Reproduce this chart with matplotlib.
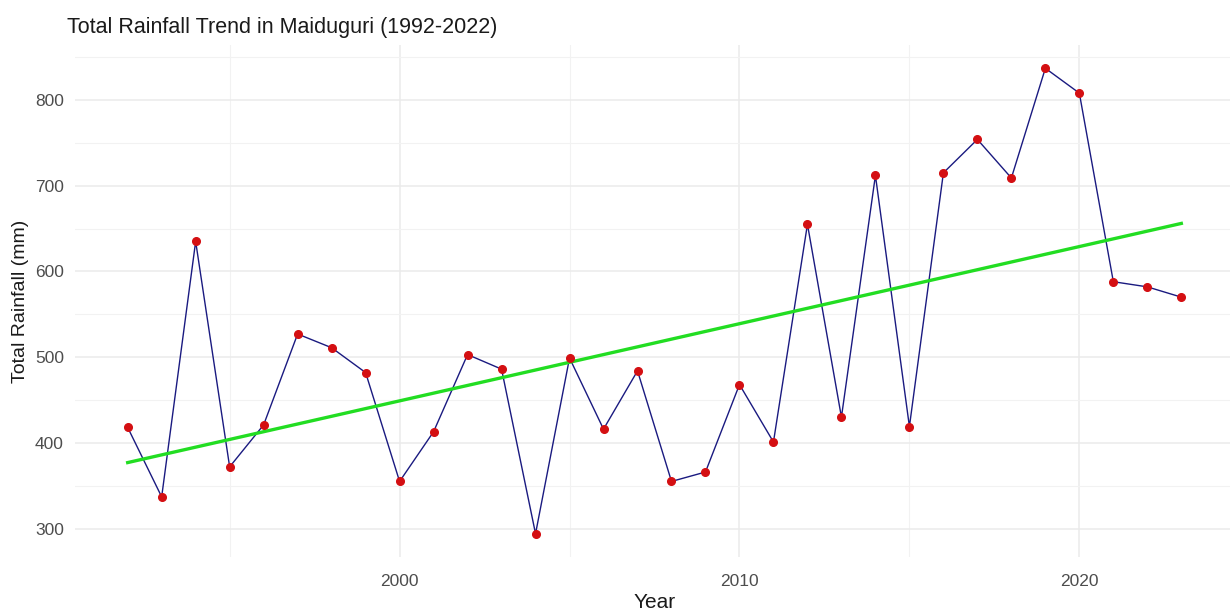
import numpy as np
import matplotlib
matplotlib.use("Agg")
import matplotlib.pyplot as plt
from matplotlib.ticker import MultipleLocator

plt.rcParams['font.family'] = ['Liberation Sans', 'DejaVu Sans']

# values
years = list(range(1992, 2024))
rainfall = [418, 337, 635, 372, 421, 527, 511, 482, 355, 413, 503, 486,
            294, 499, 416, 484, 355, 366, 468, 401, 655, 430, 712, 419,
            715, 754, 709, 837, 808, 588, 582, 570]
trend_years = [1992, 2023]
trend_vals = [377, 656]

title = "Total Rainfall Trend in Maiduguri (1992-2022)"

fig = plt.figure(figsize=(12.3, 6.12), dpi=100)
ax = fig.add_axes([75 / 1230, 55 / 612, 1159 / 1230, 512 / 612])

# ggplot-like default expansion of 5%
xr = max(years) - min(years)
ax.set_xlim(min(years) - 0.05 * xr, max(years) + 0.05 * xr)
yr = max(rainfall) - min(rainfall)
ax.set_ylim(min(rainfall) - 0.05 * yr, max(rainfall) + 0.05 * yr)

ax.xaxis.set_major_locator(MultipleLocator(10))
ax.xaxis.set_minor_locator(MultipleLocator(5))
ax.yaxis.set_major_locator(MultipleLocator(100))
ax.yaxis.set_minor_locator(MultipleLocator(50))
ax.grid(which='major', color='#ebebeb', linewidth=1.1)
ax.grid(which='minor', color='#f2f2f2', linewidth=0.8)
ax.set_axisbelow(True)
for s in ax.spines.values():
    s.set_visible(False)
ax.tick_params(which='both', length=0)
ax.tick_params(axis='both', labelsize=12.5, labelcolor='#4d4d4d')
ax.tick_params(axis='x', pad=12)
ax.tick_params(axis='y', pad=8)

ax.plot(years, rainfall, color='#1a1a80', linewidth=1.0, zorder=2)
ax.plot(trend_years, trend_vals, color='#22dd22', linewidth=2.4, zorder=3)
ax.plot(years, rainfall, 'o', color='#d40f12', markersize=5.5, zorder=4)

ax.set_xlabel("Year", fontsize=15, color='#1a1a1a', labelpad=3)
ax.set_ylabel("Total Rainfall (mm)", fontsize=14, color='#1a1a1a', labelpad=4)
fig.text(67 / 1230, 1 - 28 / 612, title, fontsize=15.5, color='#1a1a1a',
         ha='left', va='center')

fig.savefig("out.png", dpi=100)
